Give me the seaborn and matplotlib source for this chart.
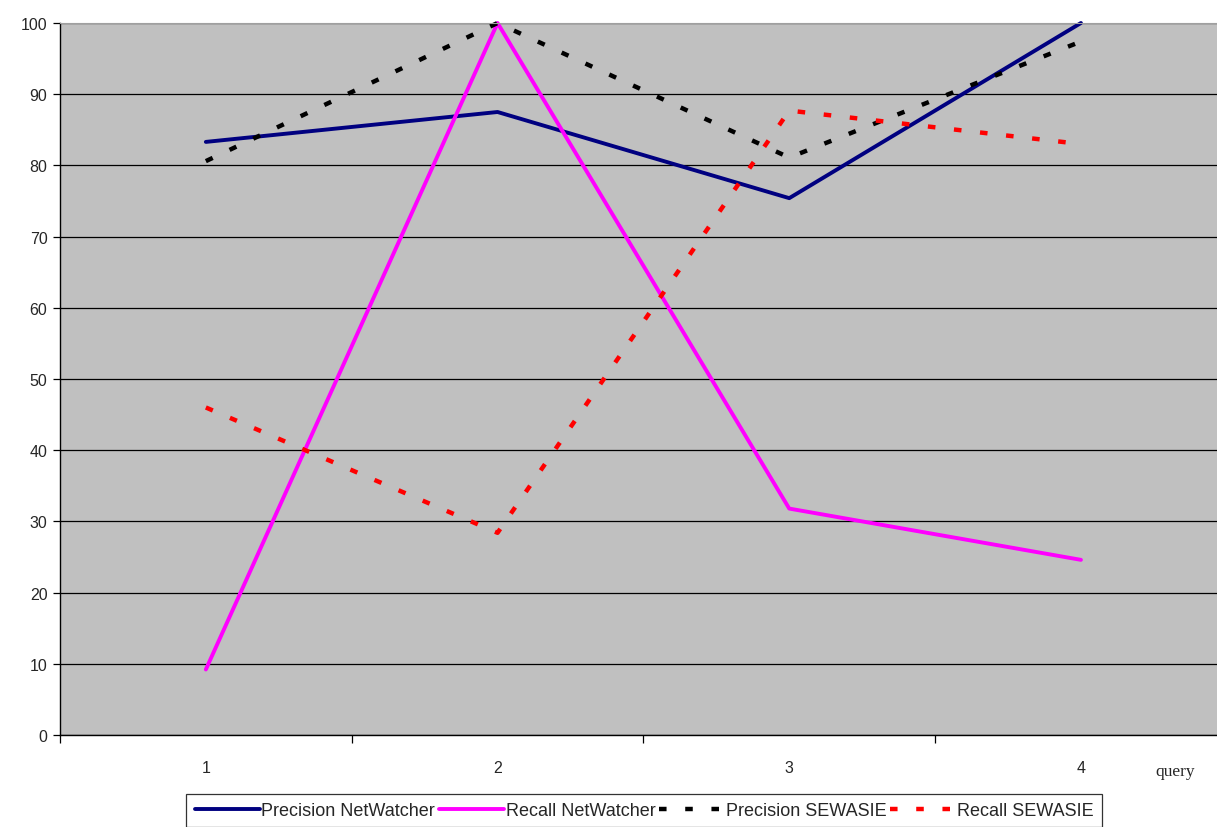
import pandas as pd
import matplotlib.pyplot as plt
import seaborn as sns

# data
queries = [1, 2, 3, 4]
precision_netwatcher = [83.3, 87.5, 75.4, 100.0]
recall_netwatcher = [9.2, 100.0, 31.8, 24.6]
precision_sewasie = [80.6, 100.0, 81.1, 97.4]
recall_sewasie = [46.0, 28.4, 87.7, 83.0]

series_names = ["Precision NetWatcher", "Recall NetWatcher", "Precision SEWASIE", "Recall SEWASIE"]
series_values = [precision_netwatcher, recall_netwatcher, precision_sewasie, recall_sewasie]
colors = ["#000080", "#FF00FF", "#000000", "#FF0000"]
dashed = [False, False, True, True]

sns.set_style("white")
plt.rcParams['font.family'] = ['Liberation Sans', 'DejaVu Sans']

fig = plt.figure(figsize=(12.17, 8.28), dpi=100)
ax = fig.add_axes([60 / 1217, 1 - 736 / 828, 1 - 60 / 1217, (736 - 24) / 828])
ax.set_facecolor("#C0C0C0")

for name, vals, col, dsh in zip(series_names, series_values, colors, dashed):
    df = pd.DataFrame({"query": queries, "value": vals})
    sns.lineplot(data=df, x="query", y="value", ax=ax, color=col, lw=3.2 if dsh else 2.8,
                 label=name, legend=False)
    l = ax.lines[-1]
    l.set_solid_capstyle("round")
    if dsh:
        l.set_dashes((1.7, 4.2))
        l.set_dash_capstyle("butt")
    l.set_clip_on(False)

# Excel-like category axis: labels centred, ticks between categories
ax.set_yticks(range(0, 101, 10))
ax.set_xticks(queries)
ax.set_xticks([0.5, 1.5, 2.5, 3.5], minor=True)
# limits after the ticks, otherwise set_xticks widens them
ax.set_xlim(0.5, 0.5 + 1157 / 291.7)
ax.set_ylim(0, 100)
ax.yaxis.grid(True, color="#000000", lw=0.9)
ax.xaxis.grid(False)
ax.set_axisbelow(True)

ax.tick_params(axis="x", which="major", length=0, pad=18, labelsize=11.5)
ax.tick_params(axis="x", which="minor", length=6, width=0.9, color="black", direction="out", bottom=True)
ax.tick_params(axis="y", length=5, width=0.9, color="black", direction="out", left=True, labelsize=11.5, pad=4)

for side in ["left", "bottom"]:
    ax.spines[side].set_color("black")
    ax.spines[side].set_linewidth(1.0)
ax.spines["right"].set_visible(False)
ax.spines["top"].set_color("#A0A0A0")

ax.set_xlabel("")
ax.set_ylabel("")
fig.text(1175 / 1217, 1 - 772 / 828, "query", family="Liberation Serif", fontsize=12.5,
         ha="center", va="center")

handles, labels = ax.get_legend_handles_labels()
leg = fig.legend(handles, labels, loc="upper center", ncol=4, bbox_to_anchor=(644 / 1217, 1 - 795 / 828),
                 frameon=True, fancybox=False, fontsize=13, handlelength=3.6, handletextpad=0.1,
                 columnspacing=0.2, borderpad=0.45, borderaxespad=0)
leg.get_frame().set_edgecolor("black")
leg.get_frame().set_linewidth(0.9)

fig.savefig("out.png", dpi=100)
